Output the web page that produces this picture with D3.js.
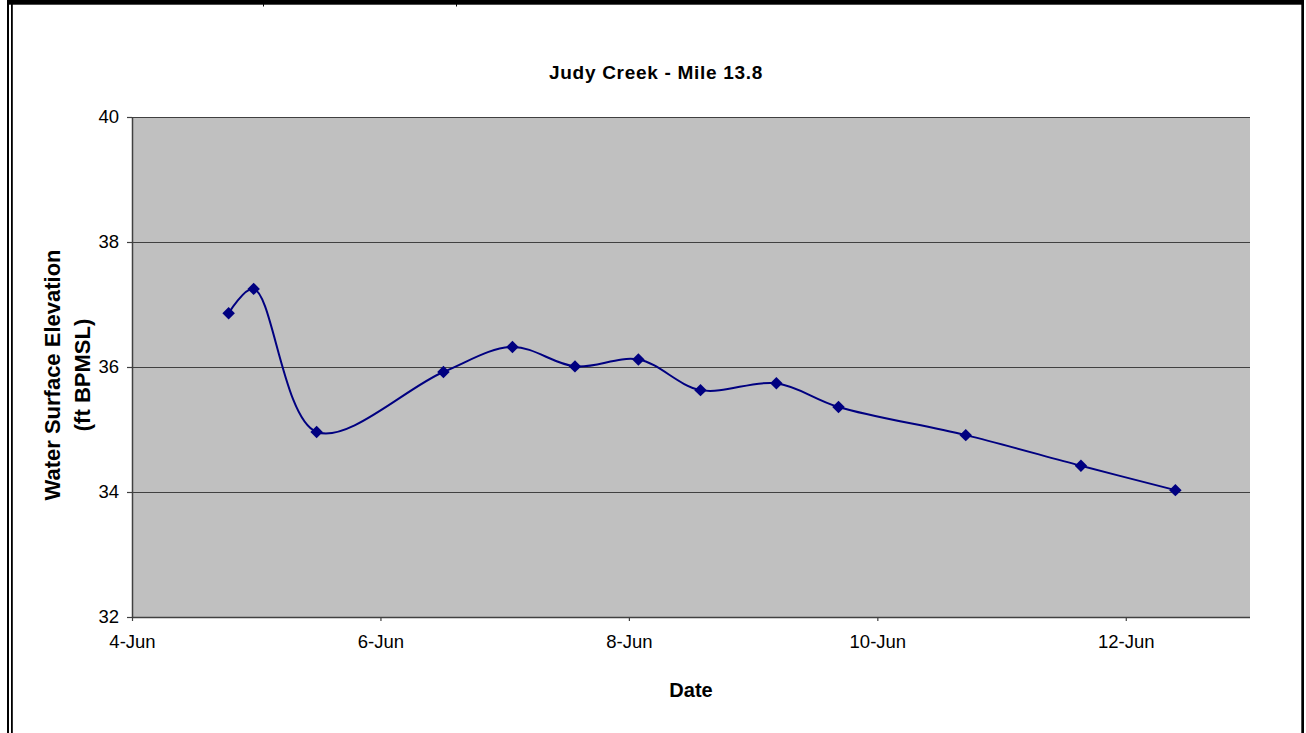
<!DOCTYPE html>
<html>
<head>
<meta charset="utf-8">
<script src="https://cdn.jsdelivr.net/npm/d3@7"></script>
<style>
  html, body { margin: 0; padding: 0; background: #ffffff; }
  svg { display: block; font-family: "Liberation Sans", Arial, sans-serif; }
</style>
</head>
<body>
<svg id="chart" width="1306" height="733"></svg>
<script>
// ---- data ----
const dates = ["2008-06-04T18:40", "2008-06-04T23:30", "2008-06-05T11:40", "2008-06-06T12:10",
               "2008-06-07T01:30", "2008-06-07T13:35", "2008-06-08T01:50", "2008-06-08T13:50",
               "2008-06-09T04:30", "2008-06-09T16:30", "2008-06-10T17:05", "2008-06-11T15:20",
               "2008-06-12T09:35"];
const elevations = [36.86, 37.25, 34.96, 35.92, 36.32, 36.01, 36.12, 35.63, 35.74, 35.36, 34.91, 34.42, 34.03];
const xTickDates = ["2008-06-04", "2008-06-06", "2008-06-08", "2008-06-10", "2008-06-12"];
const yTickValues = [32, 34, 36, 38, 40];
const titleText = "Judy Creek - Mile 13.8";
const xTitle = "Date";
const yTitleLines = ["Water Surface Elevation", "(ft BPMSL)"];

// ---- setup ----
const parseT = d3.utcParse("%Y-%m-%dT%H:%M");
const parseD = d3.utcParse("%Y-%m-%d");
const data = dates.map((d, i) => ({ t: parseT(d), v: elevations[i] }));

const svg = d3.select("#chart");
const plot = { left: 132, right: 1250, top: 117, bottom: 617 };

const x = d3.scaleUtc()
  .domain([parseD("2008-06-04"), parseD("2008-06-13")])
  .range([plot.left, plot.right]);
const y = d3.scaleLinear().domain([32, 40]).range([plot.bottom, plot.top]);

// frame borders
svg.append("rect").attr("x", 7).attr("y", 0).attr("width", 1297).attr("height", 4.7).attr("fill", "#000");
svg.append("rect").attr("x", 7).attr("y", 0).attr("width", 2).attr("height", 733).attr("fill", "#000");
svg.append("rect").attr("x", 11).attr("y", 0).attr("width", 1.8).attr("height", 733).attr("fill", "#000");
svg.append("rect").attr("x", 1301.3).attr("y", 0).attr("width", 2.7).attr("height", 733).attr("fill", "#000");
[263, 456].forEach(px => {
  svg.append("rect").attr("x", px).attr("y", 0).attr("width", 1).attr("height", 6.5).attr("fill", "#000");
});

// plot area
svg.append("rect")
  .attr("x", plot.left).attr("y", plot.top)
  .attr("width", plot.right - plot.left).attr("height", plot.bottom - plot.top)
  .attr("fill", "#c0c0c0");

// gridlines
svg.append("g").selectAll("line")
  .data(yTickValues.filter(v => v > 32))
  .join("line")
  .attr("x1", plot.left).attr("x2", plot.right)
  .attr("y1", d => Math.round(y(d)) + 0.5).attr("y2", d => Math.round(y(d)) + 0.5)
  .attr("stroke", "#404040").attr("stroke-width", 1.2);

// y axis
const yAxis = d3.axisLeft(y).tickValues(yTickValues).tickSize(5).tickPadding(8).tickFormat(d3.format("d"));
const gy = svg.append("g").attr("transform", `translate(${plot.left},0)`).call(yAxis);
gy.select(".domain").attr("stroke", "#404040").attr("stroke-width", 1.5).attr("d", `M0.5,${plot.top}V${plot.bottom}`);
gy.selectAll(".tick line").attr("stroke", "#404040").attr("stroke-width", 1.2);
gy.selectAll(".tick text").attr("font-size", 18.5).attr("fill", "#000")
  .attr("font-family", "'Liberation Sans', Arial, sans-serif");

// x axis
const xAxis = d3.axisBottom(x).tickValues(xTickDates.map(parseD)).tickSize(4).tickPadding(14)
  .tickFormat(d3.utcFormat("%-d-%b"));
const gx = svg.append("g").attr("transform", `translate(0,${plot.bottom})`).call(xAxis);
gx.select(".domain").attr("stroke", "#404040").attr("stroke-width", 1.5).attr("d", `M${plot.left},0.5H${plot.right}`);
gx.selectAll(".tick line").attr("stroke", "#404040").attr("stroke-width", 1.2);
gx.selectAll(".tick text").attr("font-size", 18.5).attr("fill", "#000")
  .attr("font-family", "'Liberation Sans', Arial, sans-serif");

// line
const line = d3.line()
  .x(d => x(d.t)).y(d => y(d.v))
  .curve(d3.curveCatmullRom.alpha(0.5));
svg.append("path").datum(data)
  .attr("d", line)
  .attr("fill", "none").attr("stroke", "#000080").attr("stroke-width", 2);

// markers
const diamond = d3.symbol().type(d3.symbolSquare).size(78);
svg.append("g").selectAll("path")
  .data(data)
  .join("path")
  .attr("d", diamond)
  .attr("transform", d => `translate(${x(d.t)},${y(d.v)}) rotate(45)`)
  .attr("fill", "#000080");

// titles
svg.append("text")
  .attr("x", 656).attr("y", 78.5)
  .attr("text-anchor", "middle")
  .attr("font-size", 19).attr("font-weight", "bold")
  .attr("letter-spacing", 0.7)
  .text(titleText);

svg.append("text")
  .attr("x", (plot.left + plot.right) / 2).attr("y", 697)
  .attr("text-anchor", "middle")
  .attr("font-size", 20).attr("font-weight", "bold")
  .text(xTitle);

const yt = svg.append("text")
  .attr("transform", "translate(0,375) rotate(-90)")
  .attr("text-anchor", "middle")
  .attr("font-size", 22).attr("font-weight", "bold");
yt.selectAll("tspan").data(yTitleLines).join("tspan")
  .attr("x", 0)
  .attr("y", (d, i) => 59.5 + i * 30)
  .text(d => d);
</script>
</body>
</html>
